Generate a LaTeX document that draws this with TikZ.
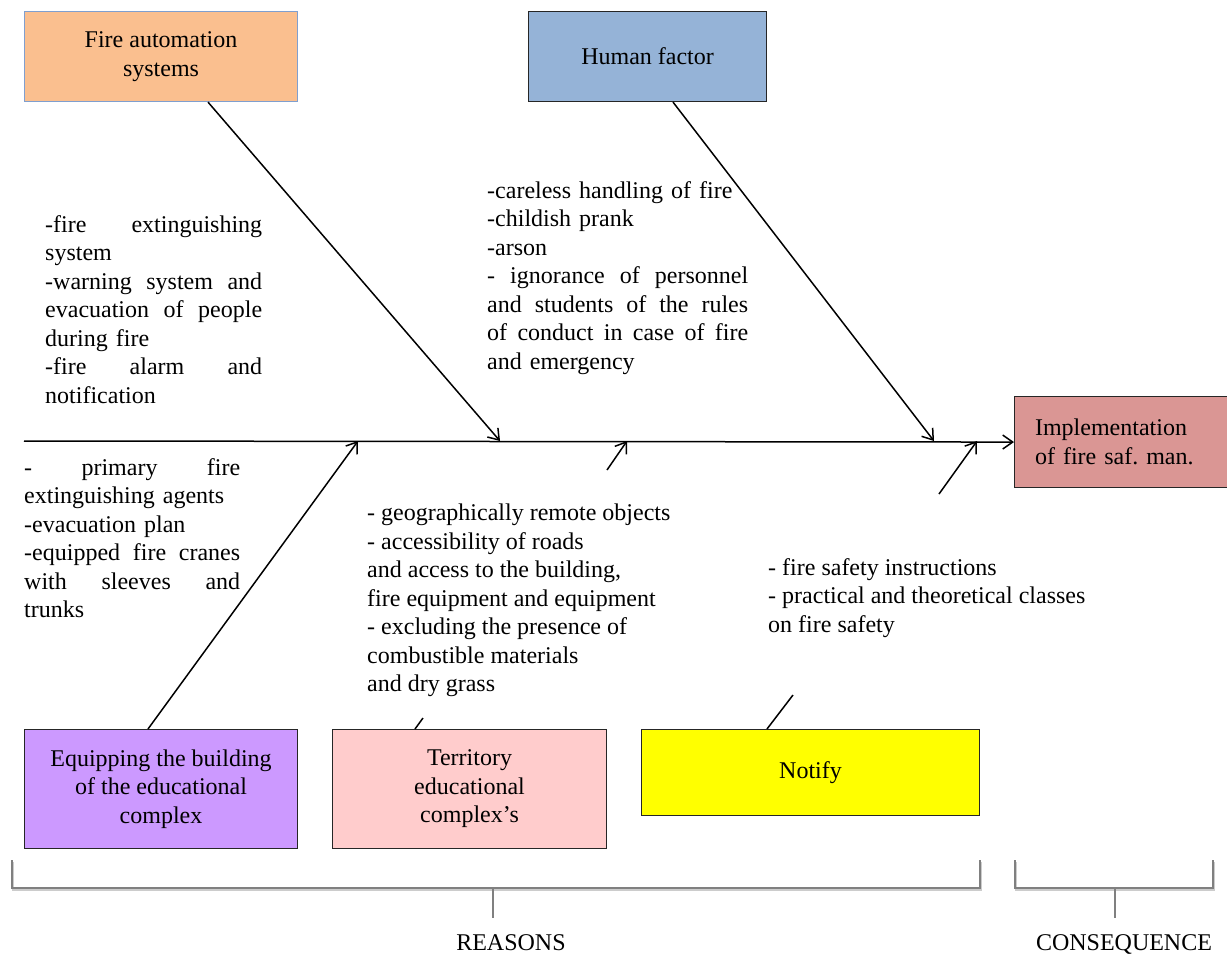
\documentclass[tikz,border=0pt]{standalone}
\usepackage{fontspec}
\setmainfont{Liberation Serif}
\usetikzlibrary{arrows.meta}
\newcommand\myfnt{\fontsize{24}{28.5}\selectfont}
\definecolor{cOrange}{HTML}{FABF8F}
\definecolor{cBlue}{HTML}{95B3D7}
\definecolor{cRed}{HTML}{DA9694}
\definecolor{cPurple}{HTML}{CC99FF}
\definecolor{cPink}{HTML}{FFCCCC}
\definecolor{cYellow}{HTML}{FFFF00}
\definecolor{cEdgeBlue}{HTML}{7F9FCF}
\begin{document}
\frenchspacing
\begin{tikzpicture}[x=1pt,y=-1pt,
  box/.style={draw=black!85, line width=1.1pt, align=center, inner sep=0pt, anchor=north west, font=\myfnt},
  txt/.style={anchor=north west, inner sep=0pt, align=left, font=\myfnt},
  arr/.style={line width=1.5pt, -{Straight Barb[length=10pt,width=14pt,line width=1.5pt]}},
  stub/.style={line width=1.5pt},
  brk/.style={draw=black!50, line width=1.7pt},
  brkshadow/.style={draw=black!20, line width=1.7pt}]
\fill[white] (0,0) rectangle (1227,956);
\useasboundingbox (0,0) rectangle (1227,956);

% boxes
\node[box, draw=cEdgeBlue, fill=cOrange, minimum width=273pt, minimum height=90pt] (fa) at (24,11) {Fire automation\\systems};
\node[box, fill=cBlue, minimum width=238pt, minimum height=90pt] (hf) at (528,11) {Human factor};
\node[box, fill=cRed, minimum width=216pt, minimum height=91pt, text width=175pt, align=left] (im) at (1014,396) {Implementation\\of fire saf. man.};
\node[box, fill=cPurple, minimum width=273pt, minimum height=119pt] (eq) at (24,729) {Equipping the building\\of the educational\\complex};
\node[box, fill=cPink, minimum width=274pt, minimum height=119pt] (te) at (332,729) {Territory\\educational\\complex's};
\node[box, fill=cYellow, minimum width=338pt, minimum height=86pt] (no) at (641,729) {Notify};

% spine
\coordinate (s0) at (24,441);
\draw[arr] (s0) -- (im.west);
\coordinate (j1) at (500,441);
\coordinate (j2) at (934,441);
\coordinate (j3) at (358,441);
\coordinate (j4) at (627,441);
\coordinate (j5) at (977,441);
\coordinate (k4) at (607,470);
\coordinate (k5) at (939,494);
\coordinate (e1) at (423,718);
\coordinate (e2) at (793,695);

\draw[arr] ([xshift=184pt]fa.south west) -- (j1);
\draw[arr] ([xshift=145pt]hf.south west) -- (j2);
\draw[arr] ([xshift=124pt]eq.north west) -- (j3);
\draw[arr] (k4) -- (j4);
\draw[arr] (k5) -- (j5);
\draw[stub] ([xshift=83pt]te.north west) -- (e1);
\draw[stub] ([xshift=126pt]no.north west) -- (e2);

% texts
\node[txt, text width=217pt] (t1) at (45,215) {-fire\hfill extinguishing\\ system\\ -warning\hfill system\hfill and\\ evacuation\hfill of\hfill people\\ during fire\\ -fire\hfill alarm\hfill and\\ notification};
\node[txt, text width=261pt] (t2) at (487,181) {-careless handling of fire\\ -childish prank\\ -arson\\ -\hfill ignorance\hfill of\hfill personnel\\ and\hfill students\hfill of\hfill the\hfill rules\\ of\hfill conduct\hfill in\hfill case\hfill of\hfill fire\\ and emergency};
\node[txt, text width=216pt] (t3) at (24,458) {-\hfill primary\hfill fire\\ extinguishing agents\\ -evacuation plan\\ -equipped\hfill fire\hfill cranes\\ with\hfill sleeves\hfill and\\ trunks};
\node[txt] (t4) at (367,504) {- geographically remote objects\\ - accessibility of roads\\ and access to the building,\\ fire equipment and equipment\\ - excluding the presence of\\ combustible materials\\ and dry grass};
\node[txt] (t5) at (768,558) {- fire safety instructions\\ - practical and theoretical classes\\ on fire safety};

% brackets
\draw[brkshadow] (13,862) -- (13,890) -- (981,890) -- (981,862);
\draw[brkshadow] (1016,862) -- (1016,890) -- (1214,890) -- (1214,862);
\draw[brk] (12,860) -- (12,888) -- (980,888) -- (980,860);
\draw[brk] (493,888) -- (493,918);
\draw[brk] (1015,860) -- (1015,888) -- (1213,888) -- (1213,860);
\draw[brk] (1115,888) -- (1115,918);
\node[font=\myfnt, anchor=base, inner sep=0pt] (rs) at (511,950) {REASONS};
\node[font=\myfnt, anchor=base, inner sep=0pt] (cs) at (1124,950) {CONSEQUENCE};
\end{tikzpicture}
\end{document}
